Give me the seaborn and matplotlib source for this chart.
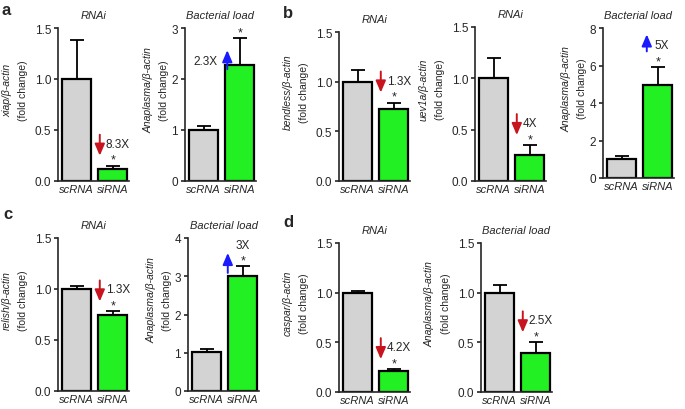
import matplotlib
matplotlib.use('Agg')
import matplotlib.pyplot as plt
import matplotlib.transforms as mtransforms
import numpy as np
import pandas as pd
import seaborn as sns

# data (fold change vs beta-actin)
groups = ['scRNA', 'siRNA']
genes = ['xiap', 'Anaplasma', 'bendless', 'uev1a', 'Anaplasma',
         'relish', 'Anaplasma', 'caspar', 'Anaplasma']
titles = ['RNAi', 'Bacterial load', 'RNAi', 'RNAi', 'Bacterial load',
          'RNAi', 'Bacterial load', 'RNAi', 'Bacterial load']
sc_mean = [1.0, 1.0, 1.0, 1.0, 1.0, 1.0, 1.02, 1.0, 1.0]
sc_sem = [0.38, 0.08, 0.12, 0.2, 0.15, 0.03, 0.09, 0.02, 0.08]
si_mean = [0.12, 2.27, 0.72, 0.25, 4.95, 0.75, 3.0, 0.21, 0.39]
si_sem = [0.03, 0.53, 0.07, 0.1, 0.95, 0.03, 0.27, 0.02, 0.11]
fold = ['8.3X', '2.3X', '1.3X', '4X', '5X', '1.3X', '3X', '4.2X', '2.5X']
direction = ['down', 'up', 'down', 'down', 'up', 'down', 'up', 'down', 'down']
ymax = [1.5, 3, 1.5, 1.5, 8, 1.5, 4, 1.5, 1.5]
ystep = [0.5, 1, 0.5, 0.5, 2, 0.5, 1, 0.5, 0.5]

# layout (pixels in a 685x410 canvas): left, top, bottom of each axes
W, H = 685, 410
boxes = [(58, 29, 182), (185, 29, 182), (339, 33, 182), (475, 28, 182), (603, 29, 179),
         (58, 239, 392), (188, 239, 392), (339, 244, 393), (481, 244, 393)]
AX_W = 71
# arrow / label placement in px relative to top of siRNA error bar:
# arrow_dx, arrow_base_dy, arrow_tip_dy, text_dx, text_dy, text_ha
down_lay = (-13, 31, 10, -7, 22, 'left')
ann_lay = [down_lay, (-12.5, -31, -12, -22, -23, 'right'), down_lay, down_lay,
           (-11, 16, 33, -3, 22, 'left'), down_lay, (-15, -7, 13, -7, 21, 'left'),
           down_lay, down_lay]

gray = '#d3d3d3'
green = '#22f022'
red = '#c8141e'
blue = '#1a1aff'
PT = 0.72  # px -> pt at 100 dpi

sns.set_style('ticks')
plt.rcParams['font.family'] = ['Liberation Sans', 'DejaVu Sans']
plt.rcParams['axes.linewidth'] = 1.2

fig = plt.figure(figsize=(6.85, 4.10), dpi=100)

for i in range(9):
    l, t, b = boxes[i]
    ax = fig.add_axes([l / W, 1 - b / H, AX_W / W, (b - t) / H])
    df = pd.DataFrame({'group': groups, 'value': [sc_mean[i], si_mean[i]]})
    sns.barplot(data=df, x='group', y='value', hue='group', palette=[gray, green],
                saturation=1, edgecolor='black', linewidth=1.6, width=0.8,
                legend=False, ax=ax)
    ax.errorbar([0, 1], [sc_mean[i], si_mean[i]], yerr=[[0, 0], [sc_sem[i], si_sem[i]]],
                fmt='none', ecolor='black', elinewidth=1.3, capsize=5, capthick=1.3, zorder=3)

    ax.set_xlim(-0.52, 1.45)
    ax.set_ylim(0, ymax[i])
    ticks = np.arange(0, ymax[i] + 1e-9, ystep[i])
    ax.set_yticks(ticks)
    if ystep[i] < 1:
        ax.set_yticklabels(['%.1f' % v for v in ticks])
    else:
        ax.set_yticklabels(['%d' % v for v in ticks])
    sns.despine(ax=ax)
    ax.tick_params(axis='y', length=3, width=1.2, labelsize=8.5, pad=2)
    ax.tick_params(axis='x', length=0, labelsize=8, pad=2)
    for lab in ax.get_xticklabels():
        lab.set_style('italic')
    ax.set_xlabel('')
    ax.set_ylabel('')
    ax.set_title(titles[i], style='italic', fontsize=8, pad=7)

    # y axis label in two lines
    dec = ystep[i] < 1
    g_off, f_off = (51, 35) if dec else (36, 21)
    ax.annotate(genes[i] + '/β-actin', xy=(0, 0.6), xycoords='axes fraction',
                xytext=(-g_off * PT, 0), textcoords='offset points', rotation=90,
                ha='center', va='center', style='italic', fontsize=7.5)
    ax.annotate('(fold change)', xy=(0, 0.6), xycoords='axes fraction',
                xytext=(-f_off * PT, 0), textcoords='offset points', rotation=90,
                ha='center', va='center', fontsize=7.5)

    # significance star and fold-change arrow
    top = si_mean[i] + si_sem[i]
    ax.text(1, top, '*', fontsize=9, ha='center', va='baseline', zorder=5,
            transform=mtransforms.offset_copy(ax.transData, fig=fig, x=0, y=2, units='points'))
    adx, base, tip, tdx, tdy, ha = ann_lay[i]
    col = red if direction[i] == 'down' else blue
    ax.annotate('', xy=(1, top),
                xycoords=mtransforms.offset_copy(ax.transData, fig=fig, x=adx * PT, y=tip * PT, units='points'),
                xytext=(1, top),
                textcoords=mtransforms.offset_copy(ax.transData, fig=fig, x=adx * PT, y=base * PT, units='points'),
                arrowprops=dict(arrowstyle='-|>,head_length=0.7,head_width=0.3', color=col,
                                lw=1.4, shrinkA=0, shrinkB=0, mutation_scale=10))
    ax.text(1, top, fold[i], fontsize=8.5, ha=ha, va='center',
            transform=mtransforms.offset_copy(ax.transData, fig=fig, x=tdx * PT, y=tdy * PT, units='points'))

for letter, x, y in [('a', 2, 3), ('b', 283, 6), ('c', 3, 207), ('d', 283, 215)]:
    fig.text(x / W, 1 - y / H, letter, fontsize=12, weight='bold', va='top', ha='left')

fig.savefig('out.png', dpi=100)
